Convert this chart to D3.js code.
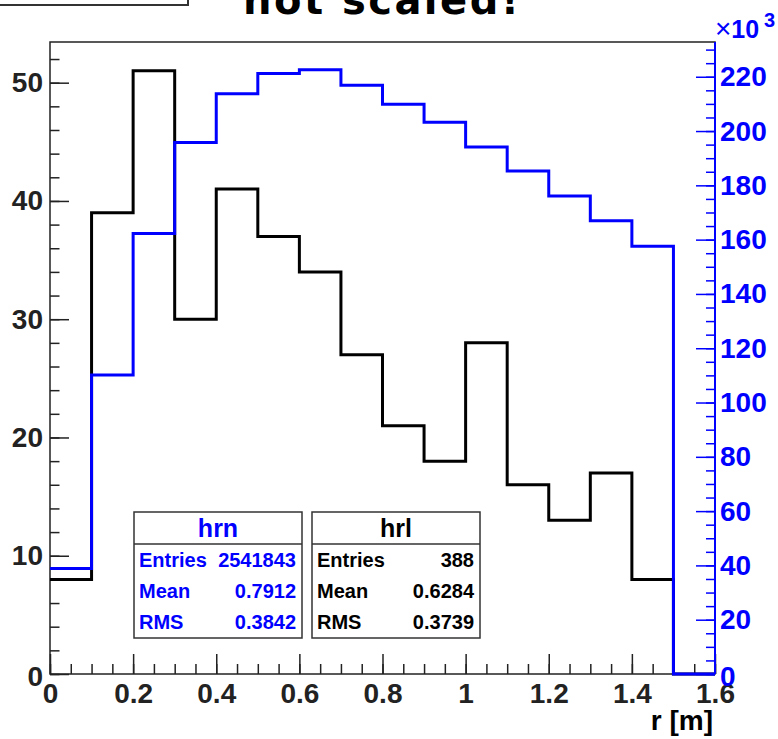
<!DOCTYPE html>
<html>
<head>
<meta charset="utf-8">
<script src="https://cdn.jsdelivr.net/npm/d3@7"></script>
<style>
  body { margin: 0; background: #fff; }
  svg { display: block; }
  text { font-family: "Liberation Sans", Arial, sans-serif; font-weight: bold; }
</style>
</head>
<body>
<div class="plot"></div>
<script>
// bin low edges, width 0.1
const binLow = [0, 0.1, 0.2, 0.3, 0.4, 0.5, 0.6, 0.7, 0.8, 0.9, 1.0, 1.1, 1.2, 1.3, 1.4, 1.5];
const binWidth = 0.1;
// hrl : counts (left axis)
const hrlCounts = [8, 39, 51, 30, 41, 37, 34, 27, 21, 18, 28, 16, 13, 17, 8, 0];
// hrn : counts x10^3 (right axis)
const hrnCounts = [38.9, 110.1, 162.3, 195.8, 213.7, 221.2, 222.6, 216.9, 209.9, 203.2, 194.1, 185.3, 176.1, 167.0, 157.6, 0];

const xTicks = [0, 0.2, 0.4, 0.6, 0.8, 1.0, 1.2, 1.4, 1.6];
const xTickLabels = ["0", "0.2", "0.4", "0.6", "0.8", "1", "1.2", "1.4", "1.6"];
const leftTicks = [0, 10, 20, 30, 40, 50];
const rightTicks = [0, 20, 40, 60, 80, 100, 120, 140, 160, 180, 200, 220];

const statsNames = ["hrn", "hrl"];
const statsEntries = ["2541843", "388"];
const statsMean = ["0.7912", "0.6284"];
const statsRms = ["0.3842", "0.3739"];
const statsColors = ["#0000ff", "#000000"];

const W = 778, H = 739;
const fx0 = 50, fx1 = 715, fy0 = 42, fy1 = 674;
const axisCol = "#222";

const svg = d3.select(".plot").append("svg")
  .attr("width", W).attr("height", H);

const x = d3.scaleLinear().domain([0, 1.6]).range([fx0, fx1]);
const yL = d3.scaleLinear().domain([0, 53.44]).range([fy1, fy0]);
const yR = d3.scaleLinear().domain([0, 232.8]).range([fy1, fy0]);

// title, cut by the top of the canvas
svg.append("rect")
  .attr("x", -5).attr("y", -30).attr("width", 193).attr("height", 35)
  .attr("fill", "#fff").attr("stroke", "#333").attr("stroke-width", 2);
svg.append("text")
  .attr("x", 381).attr("y", 14)
  .attr("text-anchor", "middle")
  .attr("textLength", 276)
  .style("font-family", "'DejaVu Sans', sans-serif")
  .style("font-size", "40px")
  .text("not scaled!");

// frame
svg.append("rect")
  .attr("x", fx0).attr("y", fy0).attr("width", fx1 - fx0).attr("height", fy1 - fy0)
  .attr("fill", "none").attr("stroke", axisCol).attr("stroke-width", 1.5);

function styleAxis(g, col) {
  g.select(".domain").remove();
  g.selectAll("line").attr("stroke", col).attr("stroke-width", 1.5);
  g.selectAll("text").attr("fill", col).style("font-size", "28px");
}

// x axis
svg.append("g").attr("transform", "translate(0," + fy1 + ")")
  .call(d3.axisBottom(x).tickValues(d3.range(0, 1.6001, 0.05)).tickSize(-10).tickFormat(""))
  .call(g => styleAxis(g, axisCol));
svg.append("g").attr("transform", "translate(0," + fy1 + ")")
  .call(d3.axisBottom(x).tickValues(xTicks).tickSize(-20).tickPadding(9)
    .tickFormat((d, i) => xTickLabels[i]))
  .call(g => styleAxis(g, axisCol));

// left axis
svg.append("g").attr("transform", "translate(" + fx0 + ",0)")
  .call(d3.axisLeft(yL).tickValues(d3.range(0, 53, 2)).tickSize(-9.5).tickFormat(""))
  .call(g => styleAxis(g, axisCol));
svg.append("g").attr("transform", "translate(" + fx0 + ",0)")
  .call(d3.axisLeft(yL).tickValues(leftTicks).tickSize(-19).tickPadding(7).tickFormat(d3.format("d")))
  .call(g => styleAxis(g, axisCol))
  .call(g => g.selectAll("text").filter(d => d === 0).attr("dy", "0.42em"));

// histograms
function histPath(counts, y) {
  const pts = binLow.map((b, i) => [b, counts[i]]);
  pts.push([binLow[binLow.length - 1] + binWidth, counts[counts.length - 1]]);
  return d3.line().x(d => x(d[0])).y(d => y(d[1])).curve(d3.curveStepAfter)(pts);
}
svg.append("path").attr("d", histPath(hrlCounts, yL))
  .attr("fill", "none").attr("stroke", "#000").attr("stroke-width", 3);
svg.append("path").attr("d", histPath(hrnCounts, yR))
  .attr("fill", "none").attr("stroke", "#0000ff").attr("stroke-width", 3);

// right axis (blue)
svg.append("g").attr("transform", "translate(" + fx1 + ",0)")
  .call(d3.axisRight(yR).tickValues(d3.range(0, 231, 5)).tickSize(-9).tickFormat(""))
  .call(g => styleAxis(g, "#0000ff"));
svg.append("g").attr("transform", "translate(" + fx1 + ",0)")
  .call(d3.axisRight(yR).tickValues(rightTicks).tickSize(-19).tickPadding(5).tickFormat(d3.format("d")))
  .call(g => styleAxis(g, "#0000ff"))
  .call(g => g.selectAll("text").filter(d => d === 0).attr("dy", "0.42em"));
svg.append("line")
  .attr("x1", fx1).attr("x2", fx1).attr("y1", fy0).attr("y2", fy1)
  .attr("stroke", "#0000ff").attr("stroke-width", 2);

const mult = svg.append("text").attr("x", 715).attr("y", 38).attr("fill", "#0000ff");
mult.append("tspan").style("font-weight", "normal").style("font-size", "28px").text("×");
mult.append("tspan").style("font-size", "25px").text("10");
svg.append("text").attr("x", 764).attr("y", 27).attr("fill", "#0000ff")
  .style("font-size", "20px").text("3");

// axis title
svg.append("text")
  .attr("x", fx1 - 2).attr("y", 730)
  .attr("text-anchor", "end")
  .style("font-size", "28px")
  .attr("fill", "#000")
  .text("r [m]");

// stats boxes
const boxX = [134, 312], boxW = 168, boxY = 512, boxH = 126, headH = 32;
statsNames.forEach(function (name, i) {
  const g = svg.append("g").attr("transform", "translate(" + boxX[i] + "," + boxY + ")");
  g.append("rect").attr("width", boxW).attr("height", boxH)
    .attr("fill", "#fff").attr("stroke", "#333").attr("stroke-width", 1.5);
  g.append("line").attr("x1", 0).attr("x2", boxW).attr("y1", headH).attr("y2", headH)
    .attr("stroke", "#333").attr("stroke-width", 1.5);
  g.append("text").attr("x", boxW / 2).attr("y", 16).attr("dy", "0.35em")
    .attr("text-anchor", "middle").attr("fill", statsColors[i])
    .style("font-size", "25px").text(name);
  const rows = [["Entries", statsEntries[i]], ["Mean", statsMean[i]], ["RMS", statsRms[i]]];
  rows.forEach(function (r, j) {
    const ty = 48 + j * 31;
    g.append("text").attr("x", 5).attr("y", ty).attr("dy", "0.35em")
      .attr("fill", statsColors[i]).style("font-size", "20px").text(r[0]);
    g.append("text").attr("x", boxW - 6).attr("y", ty).attr("dy", "0.35em")
      .attr("text-anchor", "end")
      .attr("fill", statsColors[i]).style("font-size", "20px").text(r[1]);
  });
});
</script>
</body>
</html>
